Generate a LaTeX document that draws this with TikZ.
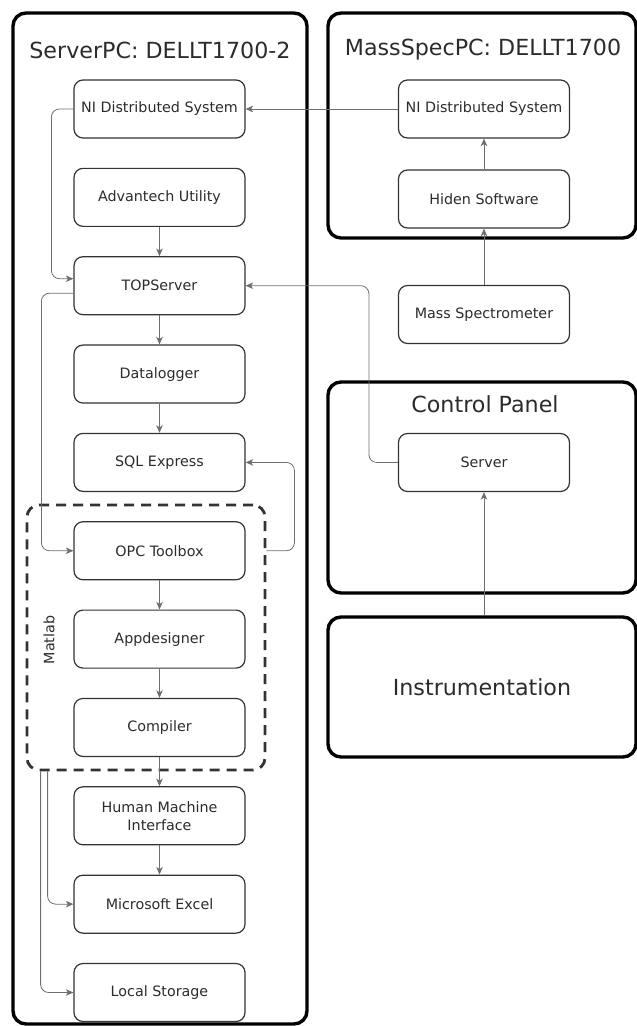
\documentclass[tikz,border=0pt]{standalone}
\usepackage{fontspec}
\setmainfont{DejaVu Sans}
\usepackage{tikz}
\usetikzlibrary{arrows.meta}

\definecolor{boxline}{HTML}{333333}
\definecolor{wire}{HTML}{6E6E6E}
\definecolor{txt}{HTML}{2B2B2B}

\begin{document}
\begin{tikzpicture}[x=1pt,y=-1pt]
        \tikzset{box/.style = {shape=rectangle,draw=boxline,line width=1.2pt,rounded corners=9pt,
                 minimum width=171pt,minimum height=58pt,inner sep=1pt,align=center,text=txt,
                 font=\fontsize{14.3}{18}\selectfont}}
        \tikzset{group/.style = {shape=rectangle,draw=black,line width=3.4pt,rounded corners=13pt,inner sep=0pt}}
        \tikzset{title/.style = {text=txt,font=\fontsize{22.2}{26}\selectfont}}
        \tikzset{edge/.style = {->,> = {Stealth[length=7.5pt,width=6.5pt,inset=2pt]},draw=wire,
                 line width=0.8pt,rounded corners=8pt}}

        \useasboundingbox (0,0) rectangle (637,1026);

        % groups
        \node[group,minimum width=294pt,minimum height=1011pt] (server) at (160,518.5) {};
        \node[group,minimum width=308pt,minimum height=225pt] (massspec) at (482,125.5) {};
        \node[group,minimum width=308pt,minimum height=211pt] (panel) at (482,487.5) {};
        \node[group,minimum width=308pt,minimum height=140pt,text=txt,
              font=\fontsize{22.2}{26}\selectfont] (instr) at (482,687) {Instrumentation};
        \node[shape=rectangle,draw=boxline,line width=2.8pt,dash pattern=on 10pt off 7pt,
              rounded corners=12pt,minimum width=238pt,minimum height=265pt] (matlab) at (146,637.5) {};

        \node[title] (t1) at (160,50) {ServerPC: DELLT1700-2};
        \node[title] (t2) at (483,50) {MassSpecPC: DELLT1700};
        \node[title] (t3) at (485,404) {Control Panel};
        \node[text=txt,rotate=90,font=\fontsize{14.3}{18}\selectfont] (t4) at (49,640) {Matlab};

        % vertices
        \foreach \n/\t [count=\i] in {niL/NI Distributed System,adv/Advantech Utility,topsrv/TOPServer,
                dl/Datalogger,sql/SQL Express,opc/OPC Toolbox,app/Appdesigner,comp/Compiler,
                hmi/Human Machine\\Interface,excel/Microsoft Excel,local/Local Storage}
            {
                \pgfmathsetmacro\y{109+88.35*(\i-1)}
                \node[box] (\n) at (159.5,\y) {\t};
            }

        \node[box] (niR) at (484,109) {NI Distributed System};
        \node[box] (hiden) at (484,199) {Hiden Software};
        \node[box] (ms) at (484,314.5) {Mass Spectrometer};
        \node[box] (srv) at (484,462.5) {Server};

        %edges
        \foreach \a/\b in {adv/topsrv,topsrv/dl,dl/sql,opc/app,app/comp,comp/hmi,hmi/excel,hiden/niR,ms/hiden}
            \draw[edge] (\a) -- (\b);

        \draw[edge] (niR) -- (niL);
        \draw[edge] (instr.north -| srv) -- (srv);
        \draw[edge] (niL.west) -- ++(-22,0) |- ([yshift=7pt]topsrv.west);
        \draw[edge] ([yshift=-7.5pt]topsrv.west) -- ++(-32,0) |- (opc.west);
        \draw[edge] (srv.west) -- ++(-29,0) |- (topsrv.east);
        \draw[edge] (matlab.east |- opc) -- ++(28,0) |- (sql.east);
        \draw[edge] ([xshift=22pt]matlab.south west) |- (excel.west);
        \draw[edge] ([xshift=15pt]matlab.south west) |- (local.west);

    \end{tikzpicture}
\end{document}
